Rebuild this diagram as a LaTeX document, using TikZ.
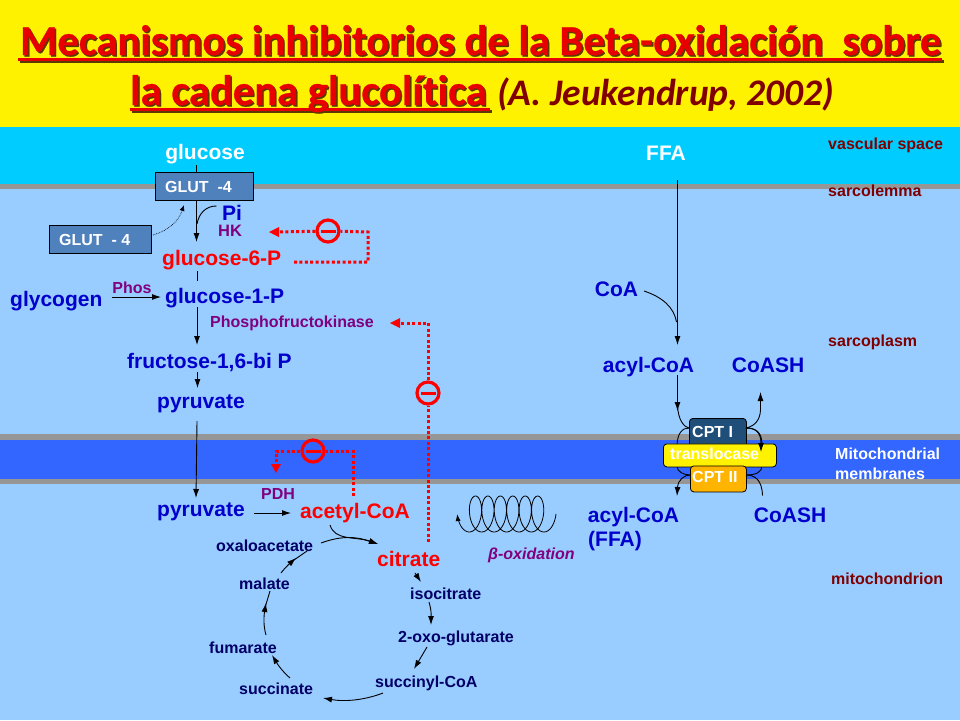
\documentclass[tikz,border=0pt]{standalone}
\usepackage{fontspec}
\setmainfont{Liberation Sans}
\newfontfamily\titlefont[Ligatures=NoCommon,BoldFeatures={FakeBold=0.6}]{Carlito}
\usetikzlibrary{arrows.meta}
\definecolor{skyb}{HTML}{00CCFF}
\definecolor{plasma}{HTML}{99CCFF}
\definecolor{memb}{HTML}{3366FF}
\definecolor{greyb}{HTML}{969696}
\definecolor{boxb}{HTML}{4F81BD}
\definecolor{navy}{HTML}{000066}
\definecolor{blu}{HTML}{0000CC}
\definecolor{purp}{HTML}{800080}
\definecolor{redd}{HTML}{FF0000}
\definecolor{dred}{HTML}{800000}
\definecolor{titred}{HTML}{E80000}
\definecolor{shad}{HTML}{5A3A00}
\definecolor{cptone}{HTML}{1F4E79}
\definecolor{cpttwo}{HTML}{FFB400}
\tikzset{
 lab/.style={inner sep=0pt,font=\bfseries\fontsize{#1}{#1}\selectfont},
 lab/.default=21,
 bl/.style={lab=21,text=blu},
 rd/.style={lab=21,text=redd},
 cyc/.style={lab=16,text=navy},
 side/.style={lab=16,text=dred,anchor=west},
 arr/.style={draw=black,line width=0.9pt,-{Latex[length=9pt,width=6pt]}},
 lin/.style={draw=black,line width=0.9pt},
 inh/.style={draw=redd,line width=3pt,dash pattern=on 3pt off 2.4pt},
 tipr/.style={fill=redd,draw=none},
 glut/.style={draw=black,fill=boxb,line width=0.8pt,minimum height=28pt,inner sep=0pt},
 minus/.style={circle,draw=redd,line width=3.2pt,minimum size=22pt,inner sep=0pt,path picture={\draw[redd,line width=3pt] ([xshift=-7.5pt]path picture bounding box.center)--([xshift=7.5pt]path picture bounding box.center);}},
 cpt/.style={draw=black,rounded corners=3.5pt,line width=0.8pt,inner sep=0pt},
 tit/.style={inner sep=0pt,anchor=base west,font=\titlefont\bfseries\fontsize{42.6}{42.6}\selectfont},
}
\begin{document}
\begin{tikzpicture}[x=1pt,y=-1pt]
\useasboundingbox (0,0) rectangle (960,720);
% backgrounds
\fill[plasma] (0,0) rectangle (960,720);
\fill[yellow] (0,0) rectangle (960,127);
\fill[skyb] (0,127) rectangle (960,184);
\fill[greyb] (0,184) rectangle (960,189);
\fill[greyb] (0,434) rectangle (960,440);
\fill[memb] (0,440) rectangle (960,479);
\fill[greyb] (0,479) rectangle (960,484);
% title
\node[tit,text=shad,xshift=1.5pt,yshift=-1.5pt] at (20,55) {Mecanismos inhibitorios de la Beta-oxidación\ \ sobre};
\fill[shad] (19.5,60) rectangle (943.5,63);
\node[tit,text=titred] (t1) at (20,55) {Mecanismos inhibitorios de la Beta-oxidación\ \ sobre};
\fill[titred] (18,58) rectangle (942,61);
\node[tit,text=shad,xshift=1.5pt,yshift=-1.5pt] at (130,105) {la cadena glucolítica};
\fill[shad] (131.5,110) rectangle (491.5,113);
\node[tit,text=titred] (t2) at (130,105) {la cadena glucolítica};
\fill[titred] (130,108) rectangle (490,111);
\node[tit,text=dred,font=\titlefont\bfseries\itshape\fontsize{37.5}{37.5}\selectfont] (t3) at (497,105) {(A. Jeukendrup, 2002)};
% side labels
\node[side] (s1) at (828,145.5) {vascular space};
\node[side] (s2) at (828,190.5) {sarcolemma};
\node[side] (s3) at (828,342) {sarcoplasm};
\node[side,text=white,align=left] (s4) at (835,464) {Mitochondrial\\[4pt]membranes};
\node[side] (s5) at (831,578.5) {mitochondrion};
% left column
\node[lab=21,text=white] (glucose) at (205,154) {glucose};
\node[glut,minimum width=98pt] (g1) at (204.5,186) {};
\node[lab=16,text=white,anchor=west] (g1t) at (165,186.5) {GLUT\ \ -4};
\node[glut,minimum width=102pt] (g2) at (100,239.5) {};
\node[lab=16,text=white,anchor=west] (g2t) at (59,239.5) {GLUT\ \ - 4};
\node[lab=21,text=blu] (pi) at (232,212.5) {Pi};
\node[lab=16.5,text=purp] (hk) at (230,231) {HK};
\node[rd,anchor=west] (g6p) at (162,260) {glucose-6-P};
\node[bl,anchor=west] (g1p) at (165,298) {glucose-1-P};
\node[bl,anchor=west] (glycogen) at (10,301) {glycogen};
\node[lab=16,text=purp] (phos) at (132,288) {Phos};
\node[lab=16,text=purp,anchor=west] (pfk) at (210,323) {Phosphofructokinase};
\node[bl,anchor=west] (f16) at (127,363) {fructose-1,6-bi P};
\node[bl,anchor=west] (pyr1) at (157,404) {pyruvate};
\node[bl,anchor=west] (pyr2) at (157,512) {pyruvate};
\node[lab=16,text=purp] (pdh) at (278,494) {PDH};
\node[rd,anchor=west] (acoa) at (300,513) {acetyl-CoA};
\node[rd,anchor=west] (citrate) at (377,559) {citrate};
% cycle
\node[cyc,anchor=west] (oxa) at (216,546) {oxaloacetate};
\node[cyc,anchor=west] (mal) at (239,584) {malate};
\node[cyc,anchor=west] (fum) at (209,648) {fumarate};
\node[cyc,anchor=west] (suc) at (239,689) {succinate};
\node[cyc,anchor=west] (scoa) at (375,683) {succinyl-CoA};
\node[cyc,anchor=west] (oxo) at (398,638) {2-oxo-glutarate};
\node[cyc,anchor=west] (iso) at (410,594) {isocitrate};
\node[lab=16,text=purp,anchor=west] (beta) at (488,555) {\itshape β-oxidation};
% glycolysis connectors
\draw[lin] (196,165)--(g1.north -| 196,0);
\draw[arr] (196.5,200)--(196.5,242);
\draw[lin] (197,224) .. controls (199,213) and (206,206) .. (216.5,206);
\draw[lin] (197,271)--(197,281);
\draw[arr] (197,307)--(197,345);
\draw[arr] (197.5,372)--(197.5,388);
\draw[arr] (197,421)--(196,498);
\draw[arr] (glycogen.east)++(9,-4)--(161,297);
\draw[-{Latex[length=6pt,width=5pt]},line width=0.7pt,densely dotted] (153,235) .. controls (170,230) and (179,220) .. (184,205);
\draw[arr] (254,513)--(291,513);
% inhibition 1
\node[minus] (m1) at (328,231) {};
\draw[inh] (294,262)--(368,262)--(368,232)--(m1);
\draw[inh] (m1)--(278,232);
\fill[tipr] (269,232)--(279,227)--(279,237)--cycle;
% inhibition 2
\node[minus] (m2) at (428,393) {};
\draw[inh] (428,542)--(m2);
\draw[inh] (m2)--(428,323)--(400,323);
\fill[tipr] (390,323)--(400,318)--(400,328)--cycle;
% inhibition 3
\node[minus] (m3) at (313,451) {};
\draw[inh] (353,496)--(353,451)--(m3);
\draw[inh] (m3)--(276,451)--(276,464);
\fill[tipr] (276,473)--(271,464)--(281,464)--cycle;
% cycle arrows
\draw[arr] (330,525) .. controls (335,541) and (354,536) .. (378,544);
\draw[arr] (321,543) .. controls (340,536) and (355,536) .. (378,544);
\draw[arr] (415,573)--(421,582);
\draw[arr] (429,602) .. controls (432,612) and (431,618) .. (431,625);
\draw[arr] (427,647)--(414,669);
\draw[arr] (383,693) .. controls (365,700) and (345,702) .. (323,698);
\draw[arr] (290,678) .. controls (283,672) and (278,665) .. (272,655);
\draw[arr] (266,635) .. controls (263,625) and (264,615) .. (266,603);
\draw[lin] (265.5,606)--(270,591);
\draw[arr] (281,573) .. controls (284,569) and (288,565) .. (296,558);
\draw[lin] (294,560)--(307,551);
% helix
\draw[line width=0.8pt,-{Latex[length=7pt,width=5pt]},smooth] plot[domain=0:40.84,samples=240] ({547+9*cos(\x r)-1.98*\x},{514+18*sin(\x r)});
% right column
\node[lab=21,text=white] (ffa) at (666,153) {FFA};
\node[bl] (coa) at (616.5,289) {CoA};
\node[bl] (ac1) at (648.5,367.5) {acyl-CoA};
\node[bl] (cs1) at (768,365) {CoASH};
\node[bl] (ac2) at (633.5,517.5) {acyl-CoA};
\node[bl,anchor=west] (ffa2) at (588,541) {(FFA)};
\node[bl] (cs2) at (790,515) {CoASH};
\node[cpt,fill=cptone,minimum width=57pt,minimum height=30pt,anchor=north west] (cpt1) at (689,418) {};
\draw[lin] (689,428) .. controls (683,428) and (677,432) .. (677,447);
\draw[lin] (746,428) .. controls (756,428) and (762,432) .. (762,445);
\draw[lin] (690,475) .. controls (684,475) and (677,472) .. (677,466);
\draw[lin] (746,475) .. controls (756,475) and (762,472) .. (762,466);
\node[cpt,fill=yellow,minimum width=113pt,minimum height=23pt,anchor=north west] (tr) at (663,443.5) {};
\node[cpt,fill=cpttwo,minimum width=56pt,minimum height=26pt,anchor=north west] (cpt2) at (690,465.5) {};
\node[lab=16,text=white,anchor=west] (cpt1t) at (692,431.5) {CPT I};
\node[lab=16,text=white,anchor=west] (trt) at (670,454) {translocase};
\node[lab=16,text=white,anchor=west] (cpt2t) at (692,477) {CPT II};
\draw[arr] (677.5,180)--(677.5,345);
\draw[lin] (644,291) .. controls (662,297) and (674,307) .. (676.5,322);
\draw[arr] (677.5,375)--(677.5,411);
\draw[lin] (677.5,405) .. controls (678,420) and (684,427) .. (689,428);
\draw[arr] (746,428) .. controls (755,426) and (760,420) .. (760.5,410) -- (760.5,392);
\draw[arr] (746,428) .. controls (755,428) and (761,432) .. (761,452);
\draw[arr] (690,475) .. controls (684,475) and (678,480) .. (677,496);
\draw[lin] (746,475) .. controls (755,475) and (762,480) .. (762.5,495.5);
\end{tikzpicture}
\end{document}
